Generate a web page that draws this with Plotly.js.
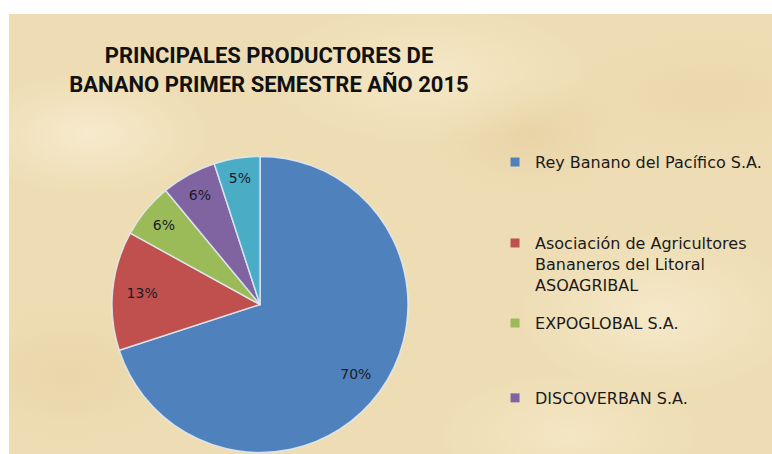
<!DOCTYPE html>
<html>
<head>
<meta charset="utf-8">
<script src="https://cdn.plot.ly/plotly-3.0.1.min.js"></script>
<style>
  html, body { margin: 0; padding: 0; background: #ffffff; width: 772px; height: 454px; overflow: hidden; }
  #wrap {
    position: absolute; left: 9px; top: 14px; width: 763px; height: 440px;
    background-color: #EEDDB4;
    background-image:
      radial-gradient(ellipse 120px 60px at 80px 120px, rgba(250,240,215,0.7), rgba(250,240,215,0) 100%),
      radial-gradient(ellipse 160px 70px at 420px 60px, rgba(248,236,206,0.7), rgba(248,236,206,0) 100%),
      radial-gradient(ellipse 140px 80px at 650px 300px, rgba(250,240,215,0.6), rgba(250,240,215,0) 100%),
      radial-gradient(ellipse 100px 60px at 520px 120px, rgba(226,200,150,0.45), rgba(226,200,150,0) 100%),
      radial-gradient(ellipse 120px 70px at 60px 360px, rgba(228,204,156,0.45), rgba(228,204,156,0) 100%),
      radial-gradient(ellipse 150px 60px at 700px 80px, rgba(230,206,160,0.4), rgba(230,206,160,0) 100%),
      radial-gradient(ellipse 130px 60px at 560px 420px, rgba(248,236,206,0.6), rgba(248,236,206,0) 100%);
  }
  #chart { width: 763px; height: 440px; }
</style>
</head>
<body>
<div id="wrap"><div id="chart"></div></div>
<script>
const categories = [
  'Rey Banano del Pacífico S.A.',
  'Asociación de Agricultores Bananeros del Litoral ASOAGRIBAL',
  'EXPOGLOBAL S.A.',
  'DISCOVERBAN S.A.',
  'Otros'
];
const legendLabels = [
  'Rey Banano del Pacífico S.A.',
  'Asociación de Agricultores<br>Bananeros del Litoral<br>ASOAGRIBAL',
  'EXPOGLOBAL S.A.',
  'DISCOVERBAN S.A.'
];
const shares = [70, 13, 6, 6, 5];
const colors = ['#4F81BD', '#C0504D', '#9BBB59', '#8064A2', '#4BACC6'];
const titleText = 'PRINCIPALES PRODUCTORES DE<br>BANANO PRIMER SEMESTRE AÑO 2015';

const W = 763, H = 440;
const cx = 251, cy = 290.5, r = 148;
const pieDomain = { x: [(cx - r) / W, (cx + r) / W], y: [(H - cy - r) / H, (H - cy + r) / H] };

// filled slices
const pie = {
  type: 'pie',
  labels: categories,
  values: shares,
  sort: false,
  direction: 'clockwise',
  rotation: 0,
  showlegend: false,
  marker: { colors: colors, line: { color: 'rgba(225,235,245,0.85)', width: 1.5 } },
  textinfo: 'none',
  hoverinfo: 'label+percent',
  domain: pieDomain
};
// percentage labels, placed in the outer ring of the same slices
const pieLabels = {
  type: 'pie',
  labels: categories,
  values: shares,
  sort: false,
  direction: 'clockwise',
  rotation: 0,
  hole: 0.6,
  showlegend: false,
  marker: { colors: colors.map(function () { return 'rgba(0,0,0,0)'; }), line: { width: 0 } },
  textinfo: 'percent',
  texttemplate: '%{percent:.0%}',
  textposition: 'inside',
  insidetextorientation: 'horizontal',
  textfont: { family: 'DejaVu Sans', size: 14, color: '#1b1b24' },
  hoverinfo: 'skip',
  domain: pieDomain
};

const legendNames = ['legend', 'legend2', 'legend3', 'legend4'];
const legendY = [0.702, 0.518, 0.336, 0.166];
const traces = [pie, pieLabels];
const layoutLegends = {};
legendLabels.forEach(function (name, i) {
  traces.push({
    type: 'scatter', mode: 'markers', x: [null], y: [null],
    name: name, legend: legendNames[i], hoverinfo: 'skip',
    marker: { symbol: 'square', size: 9, color: colors[i] }
  });
  layoutLegends[legendNames[i]] = {
    x: 0.637, xanchor: 'left', y: legendY[i], yanchor: 'top',
    bgcolor: 'rgba(0,0,0,0)', borderwidth: 0, valign: 'top',
    font: { family: 'DejaVu Sans', size: 16, color: '#1a1a1a' }
  };
});

const layout = Object.assign({
  width: W, height: H,
  margin: { l: 0, r: 0, t: 0, b: 0 },
  paper_bgcolor: 'rgba(0,0,0,0)',
  plot_bgcolor: 'rgba(0,0,0,0)',
  xaxis: { visible: false },
  yaxis: { visible: false },
  title: {
    text: titleText,
    x: 260 / W, xanchor: 'center',
    y: 1 - 49 / H, yanchor: 'middle', yref: 'container',
    font: { family: 'Roboto, Liberation Sans, sans-serif', size: 22, color: '#111111', weight: 'bold' }
  }
}, layoutLegends);

Plotly.newPlot('chart', traces, layout, { displayModeBar: false, staticPlot: true });
</script>
</body>
</html>
